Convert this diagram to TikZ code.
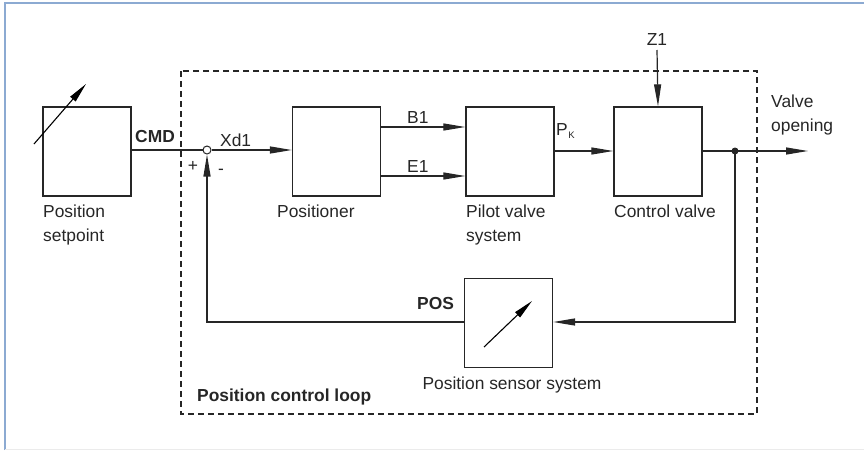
\documentclass[tikz,border=0pt]{standalone}
\usepackage{fontspec}
\setmainfont{Liberation Sans}
\usetikzlibrary{arrows.meta}
\begin{document}
\begin{tikzpicture}[x=1pt,y=-1pt,
  blk/.style={draw=black!85,line width=1.3pt,minimum width=88pt,minimum height=89pt,inner sep=0pt},
  lbl/.style={font=\fontsize{17.4}{23.5}\selectfont,text=black!85,inner sep=0pt},
  blbl/.style={font=\fontsize{17.4}{23.5}\selectfont\bfseries,text=black!85,inner sep=0pt},
  conn/.style={line width=1.2pt,draw=black!85},
  arr/.style={conn,-{Triangle[length=22pt,width=7pt]}},
  farr/.style={line width=1.1pt,-{Triangle[length=20pt,width=7pt]}}]
\useasboundingbox (0,0) rectangle (864,450);
% outer frame
\draw[draw={rgb,255:red,140;green,170;blue,210},line width=1.6pt] (5,450) -- (5,3) -- (864,3);
\draw[black!8,line width=0.8pt] (5,449) -- (864,449);
% dashed loop
\draw[black!85,line width=1.1pt,dash pattern=on 6pt off 4pt] (181,71) rectangle (757,414);
% blocks
\node[blk] (sp) at (87,151.5) {};
\node[blk] (pos) at (336.5,151.5) {};
\node[blk] (pil) at (510,151.5) {};
\node[blk] (cv) at (658,151.5) {};
\node[blk] (sen) at (508.5,323) {};
% setpoint arrow
\coordinate (spa) at (34,144);
\coordinate (spb) at (86,84);
\draw[farr] (spa) -- (spb);
% sensor arrow
\coordinate (sea) at (484,347);
\coordinate (seb) at (532,301);
\draw[farr] (sea) -- (seb);
% summing junction
\node[circle,draw=black!85,line width=1pt,fill=white,minimum size=8pt,inner sep=0pt] (sum) at (207,150) {};
\draw[conn] (sp.east |- 0,150) -- (sum.west);
\draw[arr] (sum.east) -- (pos.west |- 0,150);
% positioner to pilot
\draw[arr] (pos.east |- 0,127) -- (pil.west |- 0,127);
\draw[arr] (pos.east |- 0,176) -- (pil.west |- 0,176);
% pilot to control
\draw[arr] (pil.east |- 0,151) -- (cv.west |- 0,151);
% Z1
\node[lbl] (z1) at (657,40) {Z1};
\draw[arr] (z1.south |- 0,50) -- (cv.north);
% output
\coordinate (out) at (808,151);
\node[circle,fill=black!85,minimum size=7pt,inner sep=0pt] (dot) at (735,151) {};
\draw[arr] (cv.east |- 0,151) -- (out);
% feedback
\draw[arr] (dot.center) -- (735,322) -- (sen.east |- 0,322);
\draw[arr] (sen.west |- 0,322) -- (207,322) -- (sum.south);
% labels
\node[blbl,anchor=west] (cmd) at (135,137) {CMD};
\node[lbl,anchor=west] (xd1) at (220,140) {Xd1};
\node[lbl] (plus) at (193,166) {+};
\node[lbl] (minus) at (221,172) {-};
\node[lbl,anchor=west] (b1) at (407,118) {B1};
\node[lbl,anchor=west] (e1) at (407,167) {E1};
\node[lbl,anchor=west] (pk) at (556,131) {P\kern0.5pt\raisebox{-3pt}{\fontsize{9.5}{10}\selectfont K}};
\node[lbl,anchor=west,align=left] (vo) at (771,115) {Valve\\opening};
\node[blbl,anchor=west] (posl) at (417,304) {POS};
\node[lbl,anchor=north west,align=left] (spl) at (43,205) {Position\\setpoint};
\node[lbl,anchor=north west] (posn) at (277,205) {Positioner};
\node[lbl,anchor=north west,align=left] (pill) at (466,205) {Pilot valve\\system};
\node[lbl,anchor=north west] (cvl) at (614,205) {Control valve};
\node[lbl] (senl) at (512,385) {Position sensor system};
\node[blbl,anchor=west] (loop) at (197,397) {Position control loop};
\end{tikzpicture}
\end{document}
